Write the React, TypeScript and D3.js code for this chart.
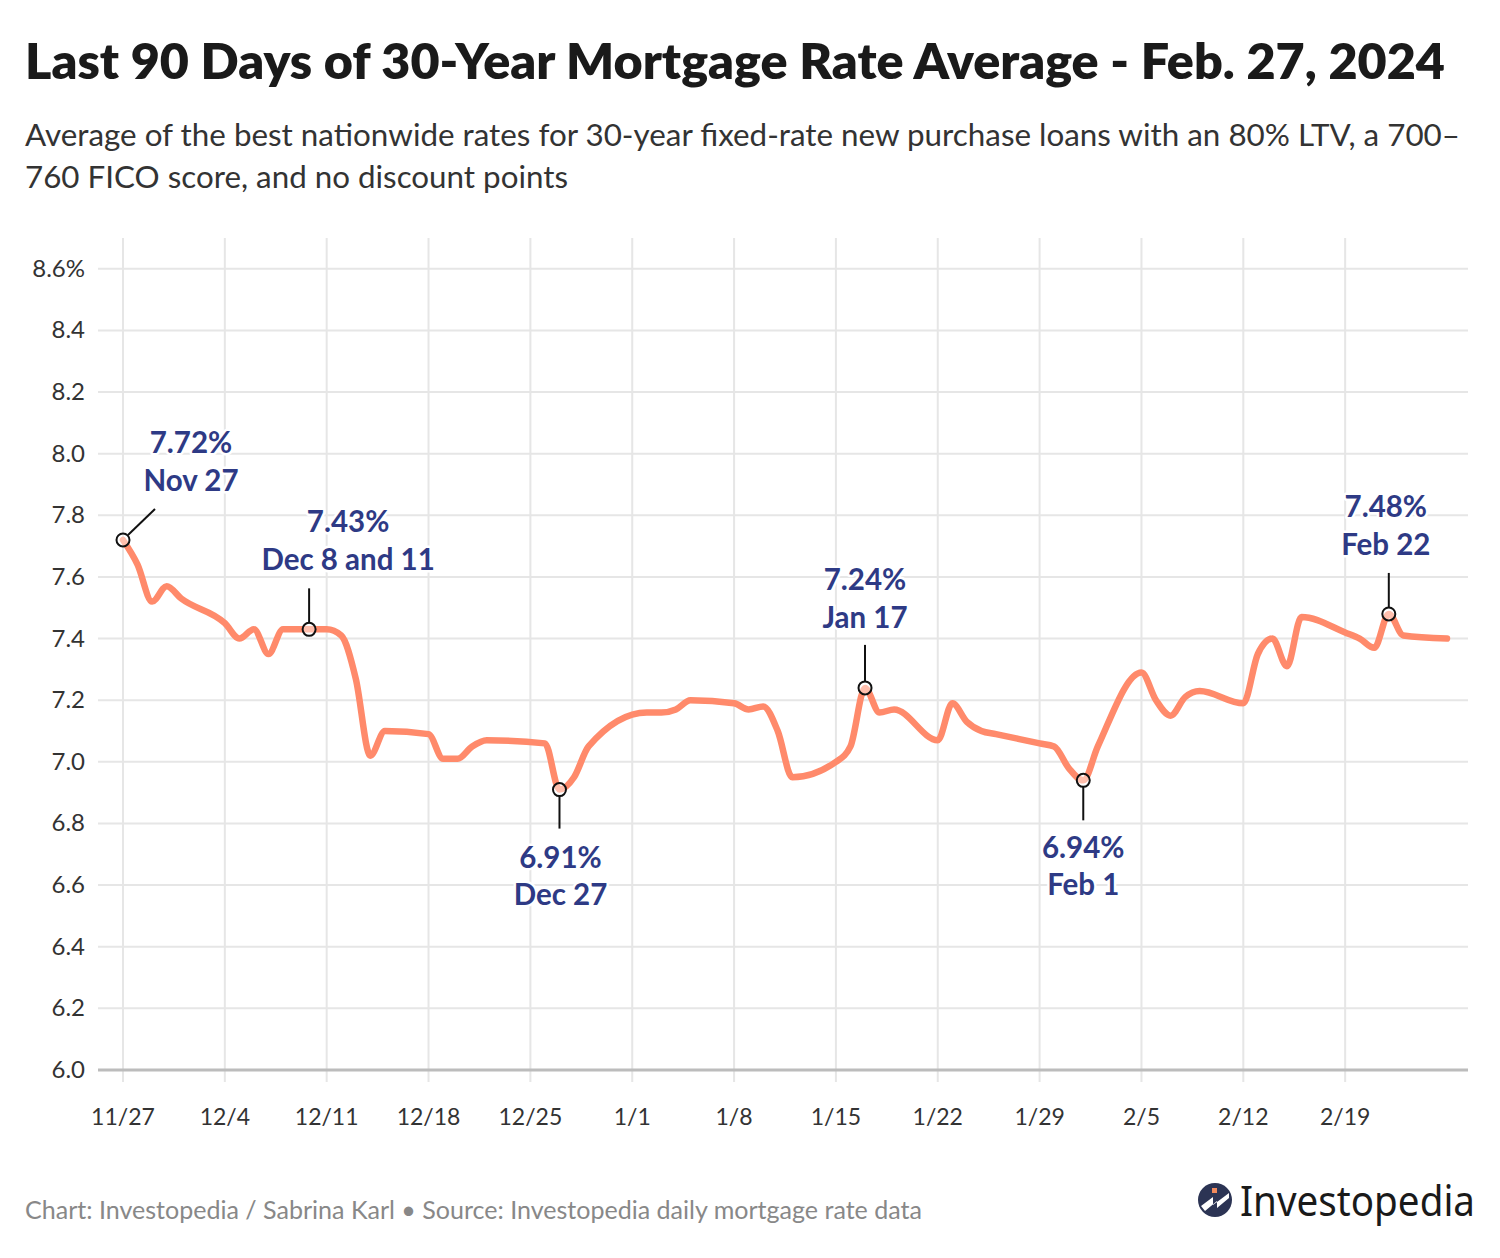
import React from "react";
import * as d3 from "d3";

const dates = [
  "2023-11-27","2023-11-28","2023-11-29","2023-11-30","2023-12-01",
  "2023-12-04","2023-12-05","2023-12-06","2023-12-07","2023-12-08",
  "2023-12-11","2023-12-12","2023-12-13","2023-12-14","2023-12-15",
  "2023-12-18","2023-12-19","2023-12-20","2023-12-21","2023-12-22",
  "2023-12-26","2023-12-27","2023-12-28","2023-12-29",
  "2024-01-02","2024-01-03","2024-01-04","2024-01-05",
  "2024-01-08","2024-01-09","2024-01-10","2024-01-11","2024-01-12",
  "2024-01-15","2024-01-16","2024-01-17","2024-01-18","2024-01-19",
  "2024-01-22","2024-01-23","2024-01-24","2024-01-25","2024-01-26",
  "2024-01-29","2024-01-30","2024-01-31","2024-02-01","2024-02-02",
  "2024-02-05","2024-02-06","2024-02-07","2024-02-08","2024-02-09",
  "2024-02-12","2024-02-13","2024-02-14","2024-02-15","2024-02-16",
  "2024-02-19","2024-02-20","2024-02-21","2024-02-22","2024-02-23",
  "2024-02-26",
];
const rates = [
  7.72, 7.64, 7.52, 7.57, 7.53,
  7.45, 7.40, 7.43, 7.35, 7.43,
  7.43, 7.41, 7.27, 7.02, 7.10,
  7.09, 7.01, 7.01, 7.05, 7.07,
  7.06, 6.91, 6.95, 7.05,
  7.16, 7.16, 7.17, 7.20,
  7.19, 7.17, 7.18, 7.10, 6.95,
  7.00, 7.05, 7.24, 7.16, 7.17,
  7.07, 7.19, 7.13, 7.10, 7.09,
  7.06, 7.05, 6.98, 6.94, 7.05,
  7.29, 7.20, 7.15, 7.21, 7.23,
  7.19, 7.35, 7.40, 7.31, 7.47,
  7.42, 7.40, 7.37, 7.48, 7.41,
  7.40,
];
const yTicks = [6.0, 6.2, 6.4, 6.6, 6.8, 7.0, 7.2, 7.4, 7.6, 7.8, 8.0, 8.2, 8.4, 8.6];
const xTickDates = [
  "2023-11-27","2023-12-04","2023-12-11","2023-12-18","2023-12-25",
  "2024-01-01","2024-01-08","2024-01-15","2024-01-22","2024-01-29",
  "2024-02-05","2024-02-12","2024-02-19",
];
const annoDates = ["2023-11-27","2023-12-09T19:00","2023-12-27","2024-01-17","2024-02-01","2024-02-22"];
const annoValues = [7.72, 7.43, 6.91, 7.24, 6.94, 7.48];
const annoRates = ["7.72%","7.43%","6.91%","7.24%","6.94%","7.48%"];
const annoLabels = ["Nov 27","Dec 8 and 11","Dec 27","Jan 17","Feb 1","Feb 22"];
const annoLayout = [
  { tx: 68, t1: -87, t2: -49, diag: true },
  { tx: 39, t1: -97, t2: -59, c1: -6, c2: -41 },
  { tx: 1, t1: 78, t2: 115, c1: 6, c2: 39 },
  { tx: 0, t1: -98, t2: -60, c1: -6, c2: -43 },
  { tx: 0, t1: 78, t2: 115, c1: 6, c2: 40 },
  { tx: -3, t1: -97, t2: -59, c1: -6, c2: -41 },
];

const parse = (s: string) => new Date(s.length > 10 ? s : s + "T00:00");
const FONT = "Lato, 'Source Sans Pro', 'Noto Sans', sans-serif";

export default function App() {
  const W = 1500, H = 1258;
  const data = dates.map((d, i) => ({ date: parse(d), value: rates[i] }));
  const x = d3.scaleTime().domain([parse("2023-11-27"), parse("2024-02-26")]).range([123, 1447]);
  const y = d3.scaleLinear().domain([6, 8.7]).range([1070, 238]);
  const plotLeft = 98, plotRight = 1468;
  const line = d3.line<{ date: Date; value: number }>()
    .x(d => x(d.date)).y(d => y(d.value)).curve(d3.curveMonotoneX);
  const fmt = d3.timeFormat("%-m/%-d");
  const navy = "#2e3a85";
  const coral = "#ff8a6b";

  return (
    <svg width={W} height={H} style={{ position: "absolute", left: 0, top: 0, background: "#fff" }} fontFamily={FONT}>
      <rect width={W} height={H} fill="#fff" />
      <text x={25} y={79} fontSize={50} fontWeight={800} fill="#1a1a1a" textLength={1420} lengthAdjust="spacingAndGlyphs">
        Last 90 Days of 30-Year Mortgage Rate Average - Feb. 27, 2024
      </text>
      <text x={25} y={146} fontSize={31} fill="#333" textLength={1435} lengthAdjust="spacingAndGlyphs">
        Average of the best nationwide rates for 30-year fixed-rate new purchase loans with an 80% LTV, a 700–
      </text>
      <text x={25} y={188} fontSize={31} fill="#333" textLength={543} lengthAdjust="spacingAndGlyphs">
        760 FICO score, and no discount points
      </text>

      {yTicks.map(t => (
        <line key={"h" + t} x1={plotLeft} x2={plotRight} y1={y(t)} y2={y(t)} stroke="#e6e6e6" strokeWidth={2} />
      ))}
      {xTickDates.map(t => (
        <line key={"v" + t} x1={x(parse(t))} x2={x(parse(t))} y1={y(8.7)} y2={1082} stroke="#e6e6e6" strokeWidth={2} />
      ))}
      <line x1={plotLeft} x2={plotRight} y1={y(6)} y2={y(6)} stroke="#bcbcbc" strokeWidth={3} />

      {yTicks.map(t => (
        <text key={"yl" + t} x={85} y={y(t) + 8} fontSize={24} fill="#333" textAnchor="end">
          {t === 8.6 ? "8.6%" : t.toFixed(1)}
        </text>
      ))}
      {xTickDates.map(t => (
        <text key={"xl" + t} x={x(parse(t))} y={1125} fontSize={23} fill="#333" textAnchor="middle">
          {fmt(parse(t))}
        </text>
      ))}

      <path d={line(data) || ""} fill="none" stroke={coral} strokeWidth={6.5} strokeLinejoin="round" strokeLinecap="round" />

      {annoDates.map((ds, i) => {
        const px = x(parse(ds));
        const py = y(annoValues[i]);
        const L = annoLayout[i];
        return (
          <g key={"a" + i}>
            {L.diag ? (
              <line x1={px + 5} y1={py - 5} x2={px + 32} y2={py - 31} stroke="#111" strokeWidth={2} />
            ) : (
              <line x1={px} y1={py + (L.c1 as number)} x2={px} y2={py + (L.c2 as number)} stroke="#111" strokeWidth={2} />
            )}
            <circle cx={px} cy={py} r={6.5} fill="rgba(255,255,255,0.45)" stroke="#111" strokeWidth={2} />
            <text x={px + L.tx} y={py + L.t1} fontSize={29.5} fontWeight={700} fill={navy} textAnchor="middle"
              stroke="#fff" strokeWidth={5} strokeLinejoin="round" style={{ paintOrder: "stroke" }}>
              {annoRates[i]}
            </text>
            <text x={px + L.tx} y={py + L.t2} fontSize={29.5} fontWeight={700} fill={navy} textAnchor="middle"
              stroke="#fff" strokeWidth={5} strokeLinejoin="round" style={{ paintOrder: "stroke" }}>
              {annoLabels[i]}
            </text>
          </g>
        );
      })}

      <text x={25} y={1219} fontSize={25} fill="#888" textLength={897} lengthAdjust="spacingAndGlyphs">
        Chart: Investopedia / Sabrina Karl • Source: Investopedia daily mortgage rate data
      </text>

      <g transform="translate(1215,1200)">
        <circle r={17} fill="#2c3454" />
        <rect x={-3} y={-12} width={5} height={5} fill="#f28a5c" />
        <path d="M-14,6 L-2,-3 L-2,5 L14,-7 L14,-2 L2,8 L2,1 L-10,11 Z" fill="#fff" />
      </g>
      <text x={1240} y={1216} fontSize={42} fill="#1a1a1a" fontFamily="'Noto Sans', sans-serif" textLength={235} lengthAdjust="spacingAndGlyphs">
        Investopedia
      </text>
    </svg>
  );
}
